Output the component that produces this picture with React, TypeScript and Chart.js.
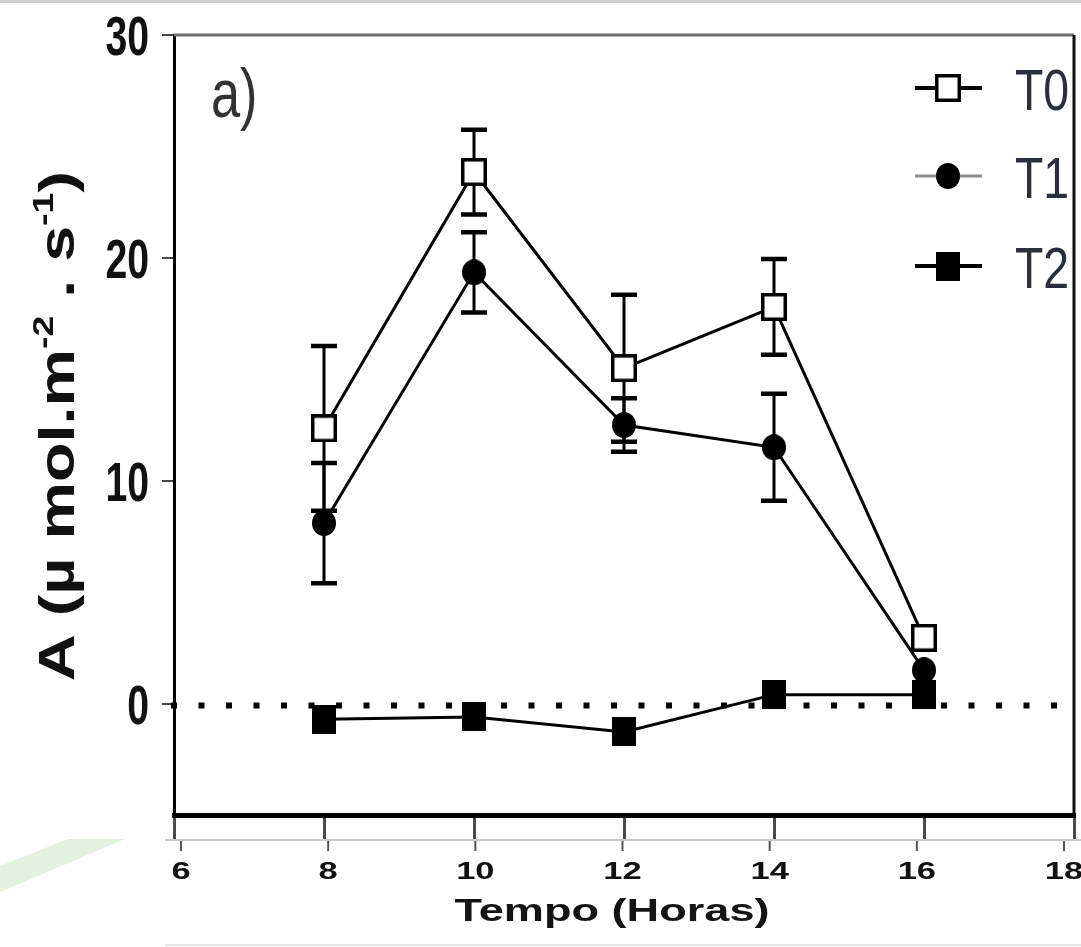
import React, { useEffect, useRef } from "react";
import { Chart, registerables } from "chart.js";
Chart.register(...registerables);

// ---- data ----
const hours = [8, 10, 12, 14, 16];
const seriesNames = ["T0", "T1", "T2"];
const t0Mean = [12.35, 23.85, 15.05, 17.8, 2.95];
const t0Err = [3.7, 1.9, 3.3, 2.15, 0];
const t1Mean = [8.1, 19.35, 12.5, 11.5, 1.5];
const t1Err = [2.7, 1.8, 1.2, 2.4, 0];
const t2Mean = [-0.7, -0.6, -1.27, 0.4, 0.4];
const t2Err = [0, 0, 0, 0, 0];
const xTickValues = [6, 8, 10, 12, 14, 16, 18];
const yTickValues = [0, 10, 20, 30];
const xAxisTitle = "Tempo (Horas)";
const yAxisTitleParts: [string, boolean][] = [
  ["A (µ mol.m", false],
  ["-2", true],
  [" . s", false],
  ["-1", true],
  [")", false],
];
const panelLabel = "a)";

const SANS = '"Liberation Sans", Arial, sans-serif';

function makeMarker(kind: "open" | "circle" | "square"): HTMLCanvasElement {
  const c = document.createElement("canvas");
  const w = kind === "circle" ? 24 : kind === "open" ? 26 : 24;
  const h = kind === "circle" ? 26 : kind === "open" ? 28 : 29;
  c.width = w;
  c.height = h;
  const g = c.getContext("2d")!;
  if (kind === "open") {
    g.fillStyle = "#fff";
    g.fillRect(0, 0, w, h);
    g.strokeStyle = "#000";
    g.lineWidth = 3.5;
    g.strokeRect(1.75, 1.75, w - 3.5, h - 3.5);
  } else if (kind === "square") {
    g.fillStyle = "#000";
    g.fillRect(0, 0, w, h);
  } else {
    g.fillStyle = "#000";
    g.beginPath();
    g.ellipse(w / 2, h / 2, w / 2, h / 2, 0, 0, Math.PI * 2);
    g.fill();
  }
  return c;
}

function scaledText(ctx: CanvasRenderingContext2D, text: string, x: number, y: number, sx: number) {
  ctx.save();
  ctx.translate(x, y);
  ctx.scale(sx, 1);
  ctx.fillText(text, 0, 0);
  ctx.restore();
}

export default function App() {
  const ref = useRef<HTMLCanvasElement>(null);

  useEffect(() => {
    const canvas = ref.current!;
    const markers = [makeMarker("open"), makeMarker("circle"), makeMarker("square")];
    const means = [t0Mean, t1Mean, t2Mean];
    const errs = [t0Err, t1Err, t2Err];

    const custom = {
      id: "custom",
      beforeDatasetsDraw(chart: any) {
        const { ctx, chartArea: ca, scales } = chart;
        const x = scales.x;
        const y = scales.y;
        // dotted zero line
        ctx.save();
        ctx.beginPath();
        ctx.rect(ca.left - 4, ca.top, ca.right - ca.left + 4, ca.bottom - ca.top);
        ctx.clip();
        const y0 = y.getPixelForValue(0) + 2;
        ctx.strokeStyle = "#000";
        ctx.lineWidth = 6;
        ctx.setLineDash([6, 21.5]);
        ctx.beginPath();
        ctx.moveTo(ca.left - 3, y0);
        ctx.lineTo(ca.right, y0);
        ctx.stroke();
        ctx.restore();
        // error bars
        ctx.save();
        ctx.strokeStyle = "#000";
        chart.data.datasets.forEach((ds: any, i: number) => {
          const e = errs[i];
          ds.data.forEach((p: any, j: number) => {
            if (!e[j]) return;
            const px = x.getPixelForValue(p.x);
            const top = y.getPixelForValue(p.y + e[j]);
            const bot = y.getPixelForValue(p.y - e[j]);
            ctx.lineWidth = 3;
            ctx.beginPath();
            ctx.moveTo(px, top);
            ctx.lineTo(px, bot);
            ctx.stroke();
            ctx.lineWidth = 4.5;
            ctx.beginPath();
            ctx.moveTo(px - 13, top);
            ctx.lineTo(px + 13, top);
            ctx.moveTo(px - 13, bot);
            ctx.lineTo(px + 13, bot);
            ctx.stroke();
          });
        });
        ctx.restore();
      },
      afterDraw(chart: any) {
        const { ctx, chartArea: ca, scales } = chart;
        const x = scales.x;
        const y = scales.y;
        const W = chart.width;
        ctx.save();

        // background decorations from the source picture
        ctx.fillStyle = "#e4f1e0";
        ctx.beginPath();
        ctx.moveTo(0, 866);
        ctx.lineTo(68, 839);
        ctx.lineTo(125, 839);
        ctx.lineTo(0, 892);
        ctx.closePath();
        ctx.fill();
        ctx.strokeStyle = "#d2d2d2";
        ctx.lineWidth = 3;
        ctx.beginPath();
        ctx.moveTo(0, 1.5);
        ctx.lineTo(W, 1.5);
        ctx.stroke();
        ctx.strokeStyle = "#c9c9c9";
        ctx.lineWidth = 2;
        ctx.beginPath();
        ctx.moveTo(165, 840);
        ctx.lineTo(W, 840);
        ctx.stroke();
        ctx.strokeStyle = "#e2e2e2";
        ctx.beginPath();
        ctx.moveTo(165, 945);
        ctx.lineTo(W, 945);
        ctx.stroke();

        // frame top
        ctx.strokeStyle = "#6e6e6e";
        ctx.lineWidth = 3;
        ctx.beginPath();
        ctx.moveTo(ca.left, ca.top);
        ctx.lineTo(ca.right, ca.top);
        ctx.stroke();

        // y tick labels (narrow)
        ctx.fillStyle = "#111";
        ctx.font = `bold 56px ${SANS}`;
        ctx.textAlign = "right";
        ctx.textBaseline = "alphabetic";
        yTickValues.forEach((v) => {
          const py = y.getPixelForValue(v);
          scaledText(ctx, String(v), 149, py + 20, 0.7);
        });

        // lower tick row + x tick labels
        const lowerX = (v: number) =>
          181 + (x.getPixelForValue(v) - ca.left) * (1064 - 181) / (ca.right - ca.left);
        ctx.strokeStyle = "#555";
        ctx.lineWidth = 2;
        xTickValues.forEach((v) => {
          const lx = lowerX(v);
          ctx.beginPath();
          ctx.moveTo(lx, 841);
          ctx.lineTo(lx, 851);
          ctx.stroke();
        });
        ctx.fillStyle = "#111";
        ctx.font = `bold 23px ${SANS}`;
        ctx.textAlign = "center";
        xTickValues.forEach((v) => {
          scaledText(ctx, String(v), lowerX(v), 879, 1.5);
        });
        // x title
        ctx.font = `bold 32px ${SANS}`;
        const tw = ctx.measureText(xAxisTitle).width;
        ctx.fillStyle = "#141414";
        scaledText(ctx, xAxisTitle, 612, 921, 315 / tw);

        // y title (rotated, with superscripts)
        const big = `bold 50px ${SANS}`;
        const small = `bold 29px ${SANS}`;
        let total = 0;
        yAxisTitleParts.forEach(([t, sup]) => {
          ctx.font = sup ? small : big;
          total += ctx.measureText(t).width;
        });
        const k = 510 / total;
        ctx.save();
        ctx.translate(74, 681);
        ctx.rotate(-Math.PI / 2);
        ctx.scale(k, 1);
        ctx.textAlign = "left";
        ctx.fillStyle = "#111";
        let cx = 0;
        yAxisTitleParts.forEach(([t, sup]) => {
          ctx.font = sup ? small : big;
          ctx.fillText(t, cx, sup ? -21 : 0);
          cx += ctx.measureText(t).width;
        });
        ctx.restore();

        // panel label
        ctx.font = `68px ${SANS}`;
        ctx.textAlign = "left";
        ctx.fillStyle = "#333";
        scaledText(ctx, panelLabel, 211, 117, 0.77);

        // legend
        const rows = [88, 176, 266];
        ctx.save();
        ctx.beginPath();
        ctx.rect(ca.left, ca.top, ca.right - ca.left - 2, ca.bottom - ca.top);
        ctx.clip();
        seriesNames.forEach((name, i) => {
          const ly = rows[i];
          ctx.strokeStyle = i === 1 ? "#8c8c8c" : "#000";
          ctx.lineWidth = i === 1 ? 3 : 4;
          ctx.beginPath();
          ctx.moveTo(915, ly);
          ctx.lineTo(982, ly);
          ctx.stroke();
          const m = markers[i];
          ctx.drawImage(m, 948 - m.width / 2, ly - m.height / 2);
          ctx.fillStyle = "#2a2f3a";
          ctx.font = `58px ${SANS}`;
          ctx.textAlign = "left";
          ctx.textBaseline = "alphabetic";
          scaledText(ctx, name, 1015, ly + 22, 0.8);
        });
        ctx.restore();

        // right frame line (over the legend text)
        ctx.strokeStyle = "#111";
        ctx.lineWidth = 3;
        ctx.beginPath();
        ctx.moveTo(ca.right, ca.top);
        ctx.lineTo(ca.right, ca.bottom);
        ctx.stroke();

        ctx.restore();
      },
    };

    const mk = (vals: number[]) => hours.map((h, i) => ({ x: h, y: vals[i] }));

    const chart = new Chart(canvas, {
      type: "line",
      data: {
        datasets: seriesNames.map((name, i) => ({
          label: name,
          data: mk(means[i]),
          borderColor: "#000",
          backgroundColor: "#000",
          borderWidth: 3,
          pointStyle: markers[i] as any,
          pointRadius: 12,
          pointHoverRadius: 12,
          tension: 0,
          fill: false,
        })),
      },
      options: {
        responsive: false,
        animation: false,
        devicePixelRatio: 1,
        events: [],
        layout: { autoPadding: false, padding: { top: 35, right: 7, left: 0, bottom: 0 } },
        plugins: {
          legend: { display: false },
          tooltip: { enabled: false },
          title: { display: false },
        },
        scales: {
          x: {
            type: "linear",
            min: 6,
            max: 18,
            afterBuildTicks: (s: any) => {
              s.ticks = xTickValues.map((v) => ({ value: v }));
            },
            afterFit: (s: any) => {
              s.height = 132;
              s.paddingLeft = 0;
              s.paddingRight = 0;
            },
            ticks: { display: false },
            grid: {
              drawOnChartArea: false,
              drawTicks: true,
              tickLength: 24,
              color: "#4a4a4a",
              lineWidth: 3,
            },
            border: { display: true, color: "#000", width: 5 },
          },
          y: {
            type: "linear",
            min: -5,
            max: 30,
            afterBuildTicks: (s: any) => {
              s.ticks = yTickValues.map((v) => ({ value: v }));
            },
            afterFit: (s: any) => {
              s.width = 174;
              s.paddingTop = 0;
              s.paddingBottom = 0;
            },
            ticks: { display: false },
            grid: {
              drawOnChartArea: false,
              drawTicks: true,
              tickLength: 12,
              color: "#444",
              lineWidth: 2,
            },
            border: { display: true, color: "#000", width: 3 },
          },
        },
      },
      plugins: [custom],
    });

    return () => chart.destroy();
  }, []);

  return (
    <div style={{ position: "absolute", left: 0, top: 0, width: 1081, height: 947, background: "#fff" }}>
      <canvas ref={ref} width={1081} height={947} style={{ display: "block" }} />
    </div>
  );
}
